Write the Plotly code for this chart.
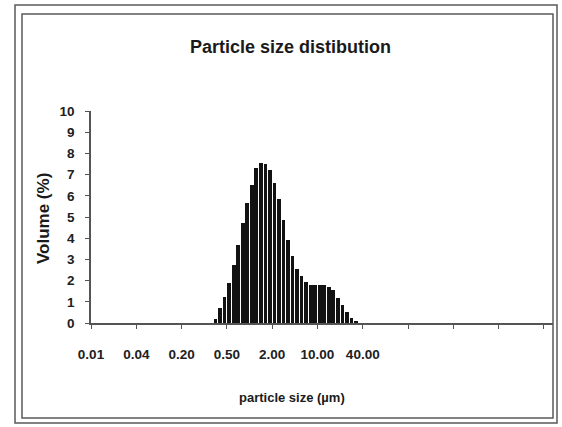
import plotly.graph_objects as go

# ---- data ----
bin_index = list(range(27, 59))  # size classes (log-spaced bins), 10 bins per labelled tick
volume_pct = [0.2, 0.7, 1.25, 1.9, 2.75, 3.7, 4.7, 5.65, 6.5, 7.3, 7.55, 7.5,
              7.2, 6.6, 5.85, 4.85, 3.9, 3.15, 2.55, 2.2, 1.95, 1.8, 1.8, 1.8,
              1.8, 1.7, 1.55, 1.2, 0.85, 0.5, 0.25, 0.1]
tick_pos = [0, 10, 20, 30, 40, 50, 60, 70, 80, 90, 100]
tick_labels = ["0.01", "0.04", "0.20", "0.50", "2.00", "10.00", "40.00", "", "", "", ""]
y_ticks = list(range(0, 11))

FONT = "Liberation Sans Narrow, Arial Narrow, Liberation Sans, Arial, sans-serif"

x_centers = [b + 0.5 for b in bin_index]

fig = go.Figure()
fig.add_trace(go.Bar(
    x=x_centers, y=volume_pct, width=0.82,
    marker=dict(color="#121212", line=dict(width=0)),
    showlegend=False, hoverinfo="x+y",
))

W, H = 562, 427
L, R, T, B = 91, 9, 111, 104
pw, ph = W - L - R, H - T - B

def px(x):
    return (x - L) / pw

def py(y):
    return (H - B - y) / ph

frame = "#5a5a5a"
axis_col = "#555555"

fig.update_layout(
    width=W, height=H,
    margin=dict(l=L, r=R, t=T, b=B),
    paper_bgcolor="white", plot_bgcolor="rgba(0,0,0,0)",
    font=dict(family=FONT, color="#222222"),
    bargap=0,
    xaxis=dict(
        range=[0, 102], showgrid=False, zeroline=False,
        showline=True, linecolor=axis_col, linewidth=1.5,
        tickmode="array", tickvals=tick_pos, ticktext=tick_labels,
        ticks="outside", ticklen=4, tickcolor=axis_col,
        tickfont=dict(size=13.5, family=FONT, color="#202020", weight="bold"),
        ticklabelstandoff=14,
    ),
    yaxis=dict(
        range=[0, 10], showgrid=False, zeroline=False,
        showline=True, linecolor=axis_col, linewidth=1.5,
        tickmode="array", tickvals=y_ticks,
        ticks="outside", ticklen=4, tickcolor=axis_col,
        tickfont=dict(size=13.5, family=FONT, color="#202020", weight="bold"),
        ticklabelstandoff=8,
    ),
    shapes=[
        dict(type="rect", xref="paper", yref="paper",
             x0=px(15), x1=px(557), y0=py(423), y1=py(5),
             line=dict(color=frame, width=1.5), fillcolor="rgba(0,0,0,0)",
             layer="below"),
        dict(type="rect", xref="paper", yref="paper",
             x0=px(22), x1=px(553), y0=py(418), y1=py(14),
             line=dict(color=frame, width=1.5), fillcolor="rgba(0,0,0,0)",
             layer="below"),
    ],
    annotations=[
        dict(text="<b>Particle size distibution</b>", xref="paper", yref="paper",
             x=px(290), y=py(47), showarrow=False,
             font=dict(size=18, family=FONT, color="#1a1a1a"),
             xanchor="center", yanchor="middle"),
        dict(text="<b>Volume (%)</b>", xref="paper", yref="paper",
             x=px(43), y=py(219), showarrow=False, textangle=-90,
             font=dict(size=17, family=FONT, color="#1a1a1a"),
             xanchor="center", yanchor="middle"),
        dict(text="<b>particle size (µm)</b>", xref="paper", yref="paper",
             x=px(292), y=py(397), showarrow=False,
             font=dict(size=13, family=FONT, color="#1a1a1a"),
             xanchor="center", yanchor="middle"),
    ],
)

fig.write_html(
    "out.html",
    config={"displayModeBar": False},
    post_script="document.body.style.margin='0';document.body.style.overflow='hidden';",
)
